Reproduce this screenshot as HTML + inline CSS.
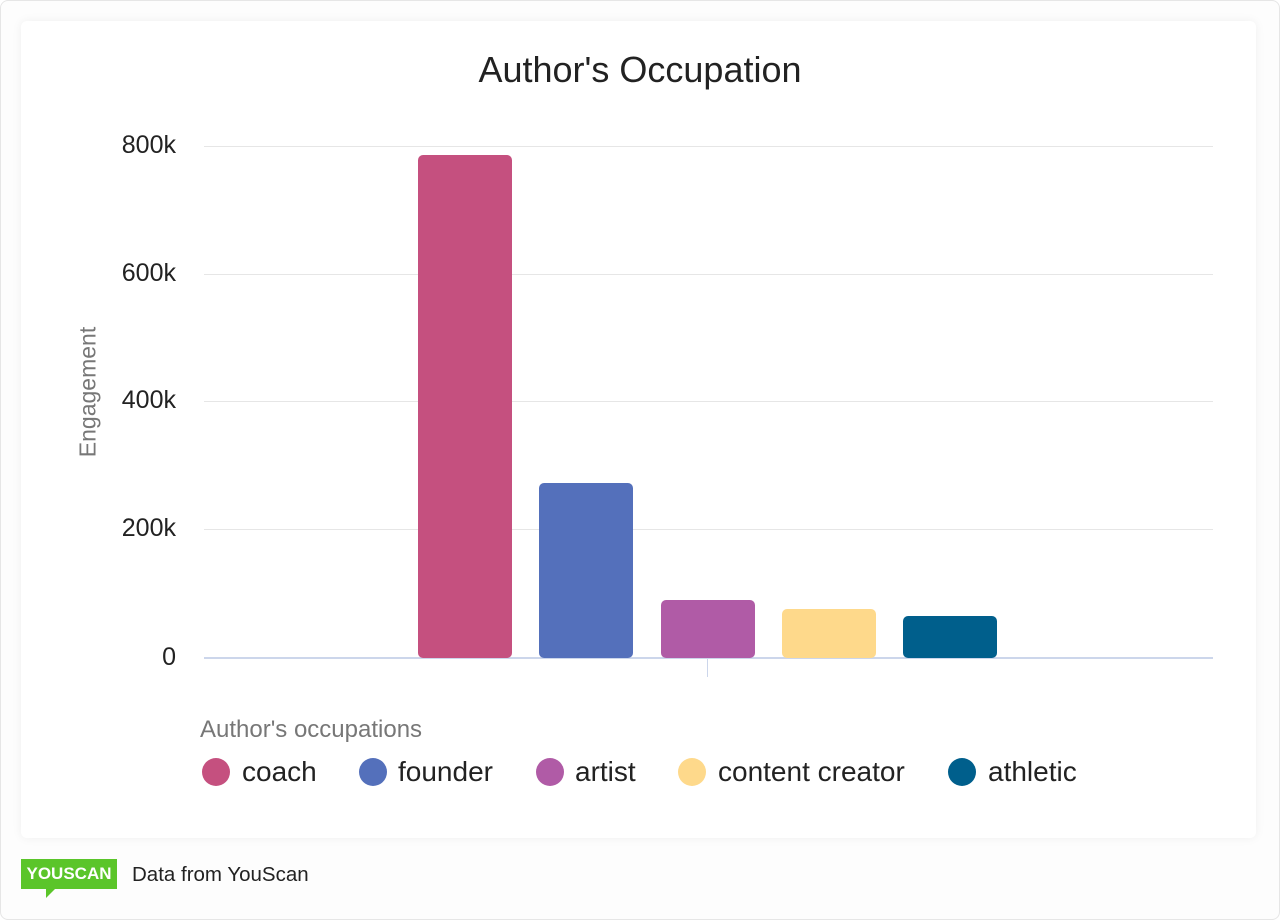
<!DOCTYPE html>
<html><head><meta charset="utf-8"><style>
html,body{margin:0;padding:0;}
body{width:1280px;height:920px;background:#fff;font-family:"Liberation Sans",sans-serif;position:relative;overflow:hidden;}
.outer{position:absolute;left:0;top:0;width:1278px;height:918px;border:1px solid #e6e6e6;border-radius:8px;background:#fdfdfd;}
.card{position:absolute;left:21px;top:21px;width:1235px;height:817px;background:#fff;border-radius:6px;box-shadow:0 0 10px rgba(0,0,0,0.06);}
.t{position:absolute;white-space:nowrap;}
.g{position:absolute;left:204px;width:1009px;height:1px;background:#e6e6e6;}
.bar{position:absolute;width:94px;border-radius:5px;}
.y{position:absolute;font-size:25px;color:#222;right:1104px;}
.lg{position:absolute;top:756px;font-size:28px;color:#222;}
.dot{position:absolute;top:758px;width:28px;height:28px;border-radius:50%;}
</style></head><body>
<div class="outer"></div>
<div class="card"></div>
<div class="t" style="left:0;width:1280px;text-align:center;top:49px;font-size:36px;color:#222;">Author's Occupation</div>
<div class="g" style="top:146px"></div>
<div class="g" style="top:274px"></div>
<div class="g" style="top:401px"></div>
<div class="g" style="top:529px"></div>
<div class="g" style="top:657px;height:2px;background:#ccd6eb"></div>
<div style="position:absolute;left:707px;top:659px;width:1px;height:18px;background:#ccd6eb"></div>
<div class="y" style="top:131px">800k</div>
<div class="y" style="top:259px">600k</div>
<div class="y" style="top:386px">400k</div>
<div class="y" style="top:514px">200k</div>
<div class="y" style="top:643px">0</div>
<div class="t" style="left:88px;top:392px;transform:translate(-50%,-50%) rotate(-90deg);font-size:23px;color:#777;">Engagement</div>
<div class="bar" style="left:418px;top:155px;height:503px;background:#c5507f"></div>
<div class="bar" style="left:539px;top:483px;height:175px;background:#5470bb"></div>
<div class="bar" style="left:661px;top:600px;height:58px;background:#b05ba6"></div>
<div class="bar" style="left:782px;top:609px;height:49px;background:#fed98b"></div>
<div class="bar" style="left:903px;top:616px;height:42px;background:#005f8c"></div>
<div class="t" style="left:200px;top:716px;font-size:24px;color:#777;">Author's occupations</div>
<div class="dot" style="left:202px;background:#c5507f"></div><div class="lg" style="left:242px">coach</div>
<div class="dot" style="left:359px;background:#5470bb"></div><div class="lg" style="left:398px">founder</div>
<div class="dot" style="left:536px;background:#b05ba6"></div><div class="lg" style="left:575px">artist</div>
<div class="dot" style="left:678px;background:#fed98b"></div><div class="lg" style="left:718px">content creator</div>
<div class="dot" style="left:948px;background:#005f8c"></div><div class="lg" style="left:988px">athletic</div>
<div style="position:absolute;left:21px;top:859px;width:96px;height:30px;background:#5bc52a;color:#fff;font-weight:bold;font-size:17px;line-height:30px;text-align:center;">YOUSCAN</div>
<div style="position:absolute;left:46px;top:889px;width:0;height:0;border-left:9px solid #5bc52a;border-bottom:9px solid transparent;"></div>
<div class="t" style="left:132px;top:863px;font-size:20.5px;color:#222;">Data from YouScan</div>
</body></html>
